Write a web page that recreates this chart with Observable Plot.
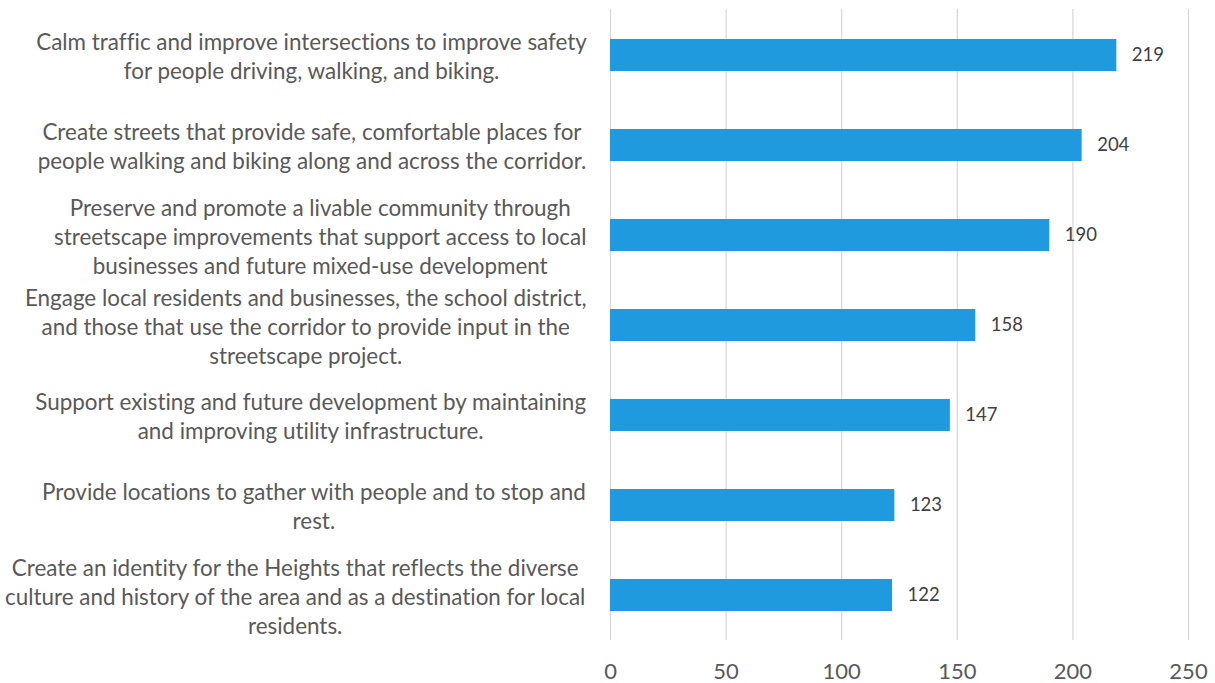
<!DOCTYPE html>
<html><head><meta charset="utf-8">
<script src="https://cdn.jsdelivr.net/npm/d3@7"></script>
<script src="https://cdn.jsdelivr.net/npm/@observablehq/plot@0.6"></script>
<style>html,body{margin:0;padding:0;background:#fff} svg{display:block} svg text{font-variant-ligatures:none;font-feature-settings:"liga" 0}</style>
</head><body><div id="chart"></div>
<script>
const categories = [
  "Calm traffic and improve intersections to improve safety\nfor people driving, walking, and biking.",
  "Create streets that provide safe, comfortable places for\npeople walking and biking along and across the corridor.",
  "Preserve and promote a livable community through\nstreetscape improvements that support access to local\nbusinesses and future mixed-use development",
  "Engage local residents and businesses, the school district,\nand those that use the corridor to provide input in the\nstreetscape project.",
  "Support existing and future development by maintaining\nand improving utility infrastructure.",
  "Provide locations to gather with people and to stop and\nrest.",
  "Create an identity for the Heights that reflects the diverse\nculture and history of the area and as a destination for local\nresidents."
];
const counts = [219, 204, 190, 158, 147, 123, 122];
const xTicks = [0, 50, 100, 150, 200, 250];

const data = categories.map((c, i) => ({category: c, count: counts[i]}));

const FONT = "Lato";
const ctx = document.createElement("canvas").getContext("2d");
function maxLineWidth(s, size) {
  ctx.font = `${size}px ${FONT}`;
  return Math.max(...s.split("\n").map(l => ctx.measureText(l).width));
}
const labelSize = +(20 * 583 / maxLineWidth(categories[6], 20)).toFixed(2);
const gap = 24;

const labelMarks = data.map(d => Plot.text([d], {
  x: () => 0,
  y: "category",
  text: "category",
  textAnchor: "middle",
  lineAnchor: "middle",
  lineHeight: 29 / labelSize,
  fontSize: labelSize,
  fill: "#595959",
  dx: -(gap + maxLineWidth(d.category, labelSize) / 2)
}));

const chart = Plot.plot({
  width: 1215,
  height: 683,
  marginLeft: 610,
  marginRight: 27,
  marginTop: 9,
  marginBottom: 43,
  style: {fontFamily: FONT, background: "#fff", overflow: "visible"},
  x: {domain: [0, 250]},
  y: {domain: categories, paddingInner: 0.645, paddingOuter: 0.3225, axis: null},
  marks: [
    Plot.ruleX(xTicks, {stroke: "#d9d9d9", strokeWidth: 1.3}),
    Plot.axisX(xTicks, {tickSize: 0, tickPadding: 23, fontSize: 22, fill: "#595959", label: null}),
    Plot.barX(data, {x: "count", y: "category", fill: "#1f9ade"}),
    Plot.text(data, {x: "count", y: "category", text: d => String(d.count), dx: 15, textAnchor: "start", fontSize: 18.5, fill: "#404040"}),
    ...labelMarks
  ]
});
document.getElementById("chart").append(chart);
</script>
</body></html>
